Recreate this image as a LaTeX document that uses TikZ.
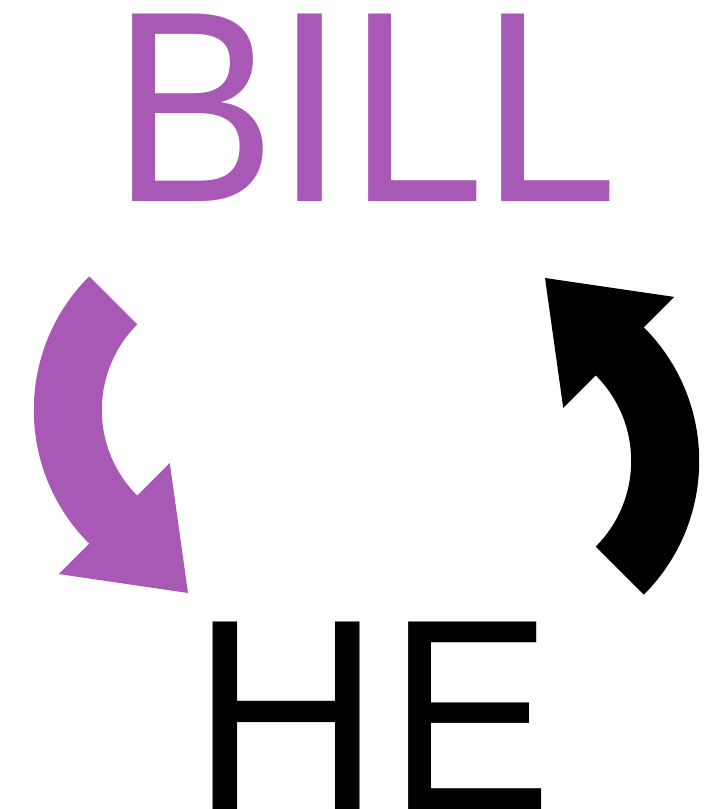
\documentclass[tikz,border=0pt]{standalone}
\usepackage{fontspec}
\setmainfont{Liberation Sans}
\usepackage{tikz}
\definecolor{billpurple}{RGB}{168,89,181}
\newcommand{\narrowglyph}[1]{\scalebox{0.933}[1]{#1}}
\newcommand{\wordbox}[1]{\scalebox{0.965}[1]{#1}}

\tikzset{turnarrow/.pic={
    \fill[pic actions] (135:189) -- (135:121) arc[start angle=135, end angle=225, radius=121]
      -- (225:75) -- (-34.8,-183) -- (225:232) -- (225:189)
      arc[start angle=225, end angle=135, radius=189] -- cycle;
  }}

\begin{document}
\begin{tikzpicture}[x=0.01cm, y=0.01cm,
    word/.style = {inner sep=0pt, anchor=base west, text height=53.5pt, text depth=0pt,
      font=\fontsize{77.5}{80}\selectfont}]
        \useasboundingbox (0,0) rectangle (708,809);
        \node[word, text=billpurple] (bill) at (112,607)
          {\wordbox{\narrowglyph{B}\kern-0.03cm I\kern0.02cm\narrowglyph{L}\kern-0.04cm\narrowglyph{L}}};
        \node[word] (he) at (191,0) {\wordbox{H\kern0.07cm\narrowglyph{E}}};
        \pic[fill=billpurple] (down) at (222.8,399) {turnarrow};
        \pic[fill=black, rotate=180] (up) at (510.2,348) {turnarrow};
      \end{tikzpicture}
\end{document}
